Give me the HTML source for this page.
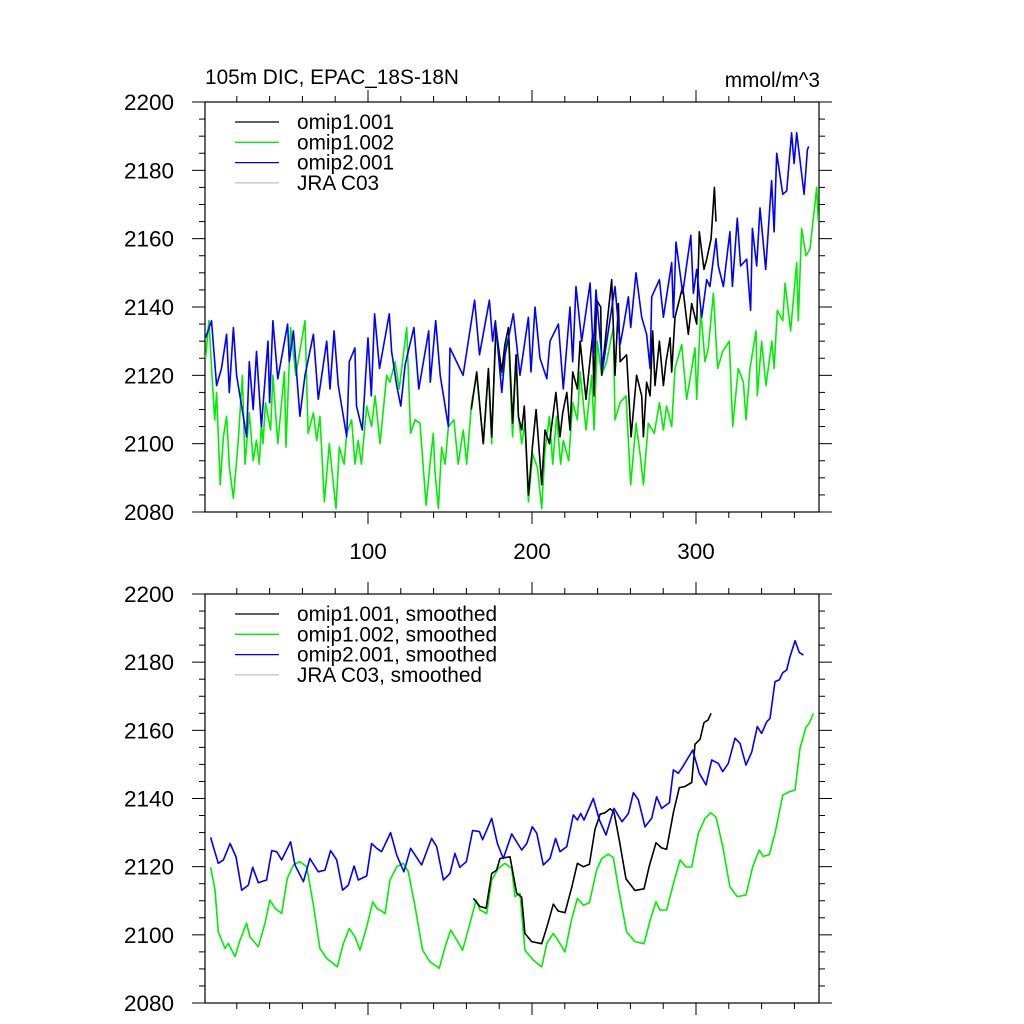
<!DOCTYPE html>
<html><head><meta charset="utf-8"><style>
html,body{margin:0;padding:0;background:#fff;}
svg{display:block;font-family:"Liberation Sans",sans-serif;}
</style></head><body>
<svg id="chart" width="1024" height="1024" viewBox="0 0 1024 1024" xmlns="http://www.w3.org/2000/svg">
<rect x="0" y="0" width="1024" height="1024" fill="#fff"/>
<text x="205" y="84" font-size="20.8">105m DIC, EPAC_18S-18N</text>
<text x="820" y="87" font-size="20.8" text-anchor="end">mmol/m^3</text>
<g id="top"></g>
<g id="bot"></g>
</svg>
<script>
// ---- data (x = time index, v = DIC) ----
const yTicks=[2080,2100,2120,2140,2160,2180,2200];
const xTicks=[100,200,300];
const xTickLabels=["100","200","300"];
const legendTop=["omip1.001","omip1.002","omip2.001","JRA C03"];
const legendBot=["omip1.001, smoothed","omip1.002, smoothed","omip2.001, smoothed","JRA C03, smoothed"];

const topBlueX=[1,4.6,7.7,10.7,13.8,15.4,17.9,19.9,26,27.6,30,32,35,39,40,42,45,51,52,54.5,58.5,61.6,66.7,69.7,74.8,76.8,79.3,81.9,87,88.6,92,93,96.5,100,102,104,107,113,114.4,117.5,120,122.6,128,131,137,138,141.3,144,149,150,158,165,168,174,176,177.7,181.6,183.6,188.6,192.7,197.8,199.4,201.8,204.9,209,211,216.1,219.1,223.2,224.8,226.8,230.3,235.4,237.4,239,243.1,250.6,253.7,255.7,258.8,260.2,263.4,266.9,269.9,272,273,277.7,280.1,285.2,286.2,287.8,291.9,296.8,298.4,300.4,303.5,306.5,308.5,312.2,313.6,316.7,320.7,322.2,325.2,327.2,330.9,333.3,334.4,337,339,342.5,346.1,347.6,349.2,352.9,355.3,358.3,359.8,361.4,365.9,367.9,368.7];
const topBlueV=[2131,2136,2117,2122,2132,2115,2134,2120,2102,2124,2110,2127,2105,2130,2112,2136,2119,2135,2124,2133,2108,2120,2132,2113,2130,2116,2133,2117,2102,2124,2128,2111,2104,2131,2114,2138,2122,2138,2127,2117,2111,2123,2134,2116,2133,2118,2136,2120,2105,2128,2120,2142,2126,2142,2130,2136,2115,2126,2138,2120,2137,2121,2140,2125,2119,2130,2135,2116,2140,2124,2146,2130,2147,2126,2145,2122,2146,2129,2134,2143,2134,2150,2137,2132,2122,2143,2148,2137,2153,2137,2159,2144,2161,2144,2151,2137,2148,2146,2160,2152,2146,2162,2146,2166,2152,2154,2139,2163,2152,2169,2151,2177,2162,2185,2173,2174,2191,2182,2191,2173,2186,2187];

const topGreenX=[1,3,5,6.5,7.7,9.9,11.8,13.8,15.5,17.9,20.9,23.4,25,27.6,30,32,33.7,35,36,37.5,40.6,42,45,49,50,52.8,56,61.6,63.5,66.7,68.7,70.7,73.4,76.4,78.5,80.5,82.5,85.4,87,90,92.1,94,96,99.2,102.2,104.3,107.3,111.4,113.4,116.5,119,123.6,126,128.7,131.7,135.4,137.8,139.8,140.8,142.9,144.9,147,149,152.4,155,158.1,160.2,163.2,166.3,170.3,173.4,175.4,178,181.5,183.5,185.6,188.2,190.3,191.7,193.7,195.7,197.8,200.4,203.3,205.9,207.9,210.6,212.6,215,217.5,219.1,222.4,224.8,227.7,229.3,232.9,236.4,237.8,239.8,242.5,245.5,249.6,250.6,253.7,257.3,260.2,263.4,265.9,267.9,270.9,274.6,277.7,280.1,282.1,285.2,287.2,291.3,294.3,299.4,300.4,302.9,305.5,307.5,310.6,313.2,316.3,320.3,322.4,325.8,328.9,330.5,332.9,336.6,337.4,340,342.7,346.2,347.6,349.6,352.9,354.3,357.7,361.4,362.4,364.4,367.1,369.5,373.6,374.6];
const topGreenV=[2125,2136,2119,2107,2115,2088,2102,2108,2093,2084,2101,2120,2094,2109,2095,2101,2094,2106,2100,2112,2104,2120,2100,2121,2099,2134,2120,2136,2103,2109,2101,2108,2083,2100,2090,2081,2099,2094,2103,2107,2094,2101,2094,2111,2105,2114,2100,2120,2118,2124,2116,2134,2103,2107,2106,2082,2094,2103,2092,2081,2099,2094,2105,2107,2094,2104,2094,2112,2120,2100,2121,2100,2134,2120,2128,2131,2102,2126,2108,2100,2106,2083,2097,2093,2081,2098,2108,2094,2108,2094,2101,2095,2112,2107,2121,2104,2120,2104,2130,2120,2124,2134,2107,2112,2114,2088,2106,2097,2088,2106,2103,2112,2104,2111,2105,2122,2129,2113,2128,2113,2139,2124,2128,2144,2122,2127,2130,2105,2122,2118,2107,2122,2133,2114,2130,2117,2130,2122,2139,2136,2147,2133,2153,2136,2163,2155,2157,2175,2165];

const topBlackX=[163,166.3,170.3,173.4,175.4,178,181.5,183.5,185.6,188.2,190.3,191.7,193.7,195.3,197.8,200.4,202.5,203.9,205.9,207.9,210.6,214.6,217.1,218.7,221.2,223.2,224.8,227.7,229.3,232.9,237,237.8,239.4,241.9,242.5,245.5,248.6,250.6,252.7,253.7,257.7,260.4,263.8,266.9,267.9,269.9,272,273.6,275,277.7,280.1,281.7,284.2,285.2,287.2,291.9,295.3,297.4,300.4,302,304.9,306.5,309.2,311.2,312.2];
const topBlackV=[2110,2121,2100,2122,2102,2134,2121,2129,2134,2106,2126,2108,2104,2111,2085,2100,2110,2101,2088,2104,2100,2115,2102,2109,2115,2104,2121,2116,2130,2113,2132,2114,2142,2140,2120,2134,2148,2120,2141,2124,2126,2102,2120,2114,2102,2118,2114,2133,2117,2130,2117,2124,2131,2121,2137,2146,2132,2141,2135,2162,2151,2154,2160,2175,2165];

const botBlueX=[4.1,5.7,8.7,11.8,15.9,19.5,23,27,29.7,33.1,38.2,41.3,44.3,47.4,52.8,55.5,60.6,64.6,69.7,73.8,77.2,80.9,84.5,88,91.5,94.1,99.2,102.2,105.3,108.3,113.8,117.5,121.9,126,130.7,132.7,138.8,141.9,146,150,153,156,160,163.8,167.9,169.9,175.4,178.9,182.5,187.6,193.7,196.8,200.2,202.9,206.9,211,214.4,217.1,221.2,225.2,227.7,229.7,231.7,237.4,241.1,245.1,250,254.9,258.8,261.8,264.9,268.9,273,276,279.1,283.8,286.2,289.2,291.9,298,302,306.1,309.6,313.6,316.3,319.7,323.8,326.8,330.5,334,337.4,340,343.1,345.1,348.2,350.8,352.9,355.3,357.3,360.4,363,365.5];
const botBlueV=[2128.6,2125.9,2121,2122,2126.8,2122.9,2113.1,2114.6,2119.8,2115.3,2116.1,2124.7,2124.4,2122,2127.3,2120.5,2115.6,2122.4,2118.5,2119,2124.7,2122,2113.1,2114.6,2120.2,2116.1,2117.3,2126.8,2125.4,2124.4,2130,2123.4,2118.5,2125.4,2122,2120.5,2128.3,2125.9,2116.1,2118,2123.9,2119.8,2121.5,2130.6,2130.3,2127.9,2134.2,2126.8,2122.4,2129.6,2124.9,2126.8,2131.7,2129.8,2120.5,2122.4,2128.3,2124.4,2125.9,2135.2,2133.7,2135.6,2133.7,2140,2133.7,2129.3,2137.1,2133.2,2135.6,2141.7,2139.6,2131.7,2134.2,2140.5,2137.1,2138.8,2148.4,2147.4,2149.3,2154.2,2147.4,2144,2151.3,2150.3,2147.9,2150.3,2157.7,2156.2,2149.8,2153.7,2161.1,2159.1,2162.5,2163.5,2174.3,2174.8,2176.9,2177.7,2181.6,2186.3,2182.8,2182.1];

const botGreenX=[4.1,6.7,8.7,12.8,14.8,18.9,22,26,28,33.1,37.2,40.2,43.3,47.4,50.8,54.5,58.5,62.6,66.7,70.7,74.8,81.3,85,88.6,92.1,95.1,99.2,102.9,105.3,110.4,113.4,117.5,121.5,124.6,128.7,133.3,137.8,143.5,147,150.4,154.1,157.7,162.2,165.9,168.3,172.4,175.4,179.5,183.5,187.6,189.6,192.7,195.7,200.8,205.9,209,213,216,220.1,224,227.7,231.3,235,239.4,242.5,246.6,249.6,252.6,257.7,262.8,268.3,272,275.6,278,282.1,286.2,290.3,293.9,297.4,301.4,305.5,309,312.2,316.3,320.7,325.2,330.5,334.6,338.6,341,344.7,348.2,352.9,357,360.4,363.4,367.1,369,371.6];
const botGreenV=[2119.8,2113.1,2100.9,2096,2097.5,2093.6,2098.5,2103.4,2099.4,2096.5,2103.4,2110.2,2107.8,2106.3,2116.6,2120.5,2121.5,2120,2108.7,2096,2093.1,2090.6,2097.5,2101.9,2099.4,2095.5,2102.4,2109.7,2107.8,2106.3,2116.1,2120,2121,2118.5,2108.2,2095.5,2092.1,2090.2,2096.5,2101.4,2098.5,2095.5,2103.4,2110.2,2107.3,2106.3,2116.1,2119.5,2121,2119.5,2111.2,2112.2,2095.5,2092.6,2090.6,2097.5,2100.4,2098.3,2095,2104.3,2110.7,2108.7,2109.4,2119,2122.4,2123.7,2122.7,2113.9,2100.9,2098,2097.4,2104.3,2109.7,2107.3,2107.3,2115,2122,2119.9,2119.9,2129.8,2134.2,2135.8,2134.5,2126,2114.1,2111.2,2111.7,2120,2124.9,2123,2123.5,2129.8,2141,2142,2142.5,2154.7,2161,2162,2165];

const botBlackX=[164.2,168.3,172,175.4,178.4,180.5,186.6,190.7,193.7,195.7,199.8,205.9,209,213,216,220.1,224.2,227.7,231.3,235,238.4,241.5,244.5,247.6,250,253.3,257.3,262.8,268.3,271.6,275.6,279,282.1,286.2,289.8,293.2,297.4,299.4,302.5,304.9,307.3,309.2];
const botBlackV=[2110.7,2108.3,2107.8,2118,2119,2122.4,2122.9,2112.2,2111,2100.4,2098,2097.4,2102.2,2109,2107,2106.5,2113.9,2121,2120,2120.7,2131,2135.4,2135.8,2137,2136,2127.6,2116.4,2113,2113.5,2120.3,2127,2125.5,2125.1,2135.9,2143.2,2143.5,2144.7,2155.9,2157.4,2162.3,2163,2165];

const NS="http://www.w3.org/2000/svg";
const L=205,R=819;
function xs(x){return 204+x*1.64;}
function mk(tag,attrs,parent){const e=document.createElementNS(NS,tag);for(const k in attrs)e.setAttribute(k,attrs[k]);parent.appendChild(e);return e;}

function panel(g,top,bot,series,legend,legendTextX,showXLabels){
  const ys=v=>top+(2200-v)*(bot-top)/120;
  const ax=mk('g',{},g);
  
  
  const fr=mk('rect',{x:L,y:top,width:R-L,height:bot-top,fill:'none',stroke:'#000','stroke-width':1.2},ax);
  
  
  for(let v=2080;v<=2200;v+=5){
    const major=(v%20===0);const len=major?13:6;const y=ys(v);
    const t1=mk('line',{x1:L-len,y1:y,x2:L,y2:y,stroke:'#000','stroke-width':1},ax);
    
    
    const t2=mk('line',{x1:R,y1:y,x2:R+len,y2:y,stroke:'#000','stroke-width':1},ax);
    
    
  }
  yTicks.forEach(v=>{
    const t=mk('text',{x:174,y:ys(v)+8,'font-size':22.5,'text-anchor':'end'},ax);
    t.textContent=String(v);
    
    
  });
  for(let x=20;x<=370;x+=20){
    const major=(x%100===0);const len=major?12:6;const px=xs(x);
    if(px>R)break;
    const b=mk('line',{x1:px,y1:bot,x2:px,y2:bot+len,stroke:'#000','stroke-width':1},ax);
    
    
    const t=mk('line',{x1:px,y1:top-len,x2:px,y2:top,stroke:'#000','stroke-width':1},ax);
    
    
  }
  if(showXLabels){
    xTicks.forEach((x,i)=>{
      const t=mk('text',{x:xs(x),y:bot+47,'font-size':22.5,'text-anchor':'middle'},ax);
      t.textContent=xTickLabels[i];
      
      
    });
  }
  series.forEach(s=>{
    let d='';
    s.x.forEach((x,i)=>{d+=(i?'L':'M')+xs(x).toFixed(1)+','+ys(s.v[i]).toFixed(1);});
    const p=mk('path',{d:d,fill:'none',stroke:s.c,'stroke-width':1.6,'stroke-linejoin':'round'},g);
    
    
  });
  const cols=['#000','#00ee00','#0000ff','#c0c0c0'];
  const lg=mk('g',{},g);
  
  
  legend.forEach((txt,i)=>{
    const y=top+20+i*20.3;
    const ln=mk('line',{x1:235,y1:y,x2:279,y2:y,stroke:cols[i],'stroke-width':1.3},lg);
    
    
    const t=mk('text',{x:legendTextX,y:y+7,'font-size':20.8},lg);
    t.textContent=txt;
    
    
  });
}

panel(document.getElementById('top'),102,512,[
  {x:topGreenX,v:topGreenV,c:'#00ee00',name:'omip1-002-line'},
  {x:topBlackX,v:topBlackV,c:'#000',name:'omip1-001-line'},
  {x:topBlueX,v:topBlueV,c:'#0000ff',name:'omip2-001-line'}
],legendTop,297,true);
panel(document.getElementById('bot'),594,1003,[
  {x:botGreenX,v:botGreenV,c:'#00ee00',name:'omip1-002-smoothed-line'},
  {x:botBlackX,v:botBlackV,c:'#000',name:'omip1-001-smoothed-line'},
  {x:botBlueX,v:botBlueV,c:'#0000ff',name:'omip2-001-smoothed-line'}
],legendBot,297,false);
</script>
</body></html>
